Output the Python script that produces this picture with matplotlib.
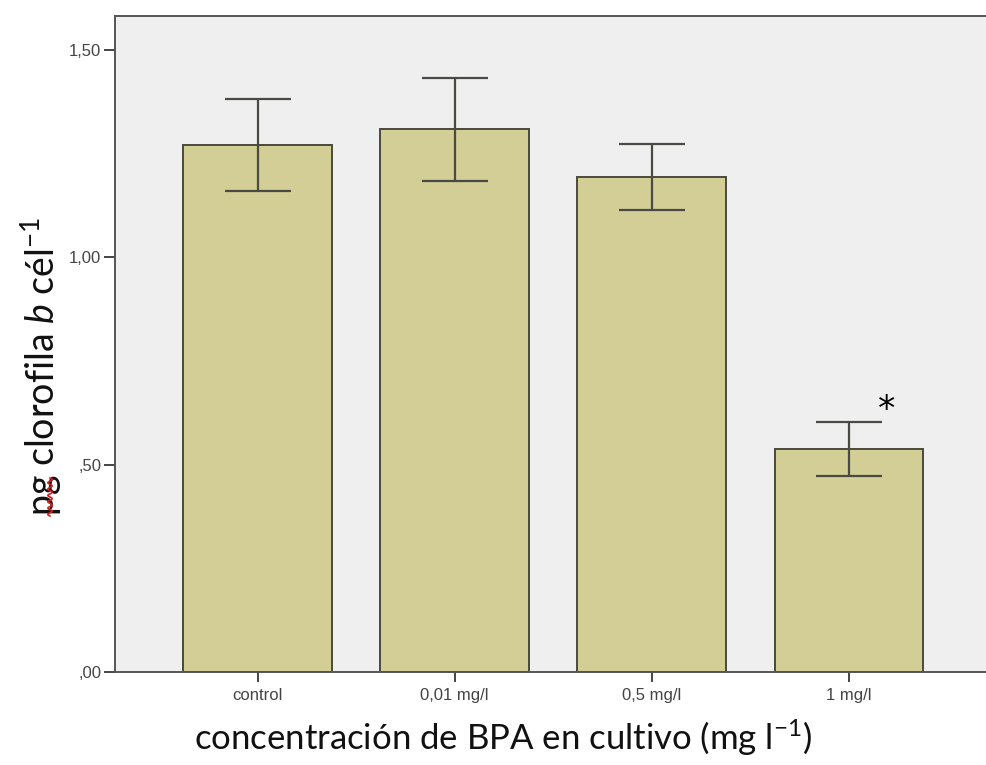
import numpy as np
import matplotlib
matplotlib.use("Agg")
import matplotlib.pyplot as plt
from matplotlib.lines import Line2D

# data
groups = ["control", "0,01 mg/l", "0,5 mg/l", "1 mg/l"]
means = [1.271, 1.309, 1.194, 0.537]
err_hi = [1.383, 1.433, 1.273, 0.603]
err_lo = [1.159, 1.184, 1.113, 0.473]
yticks = [0.0, 0.5, 1.0, 1.5]
ytick_labels = [",00", ",50", "1,00", "1,50"]
signif = [False, False, False, True]

plt.rcParams["mathtext.fontset"] = "custom"
plt.rcParams["mathtext.rm"] = "Lato"
plt.rcParams["mathtext.it"] = "Lato:italic"

fig = plt.figure(figsize=(9.87, 7.65), dpi=100)
ax = fig.add_axes([115/987, 1-672/765, 872/987, (672-16)/765])
ax.set_facecolor("#efefef")

x = np.arange(len(groups))
ax.bar(x, means, width=0.755, color="#d2ce95", edgecolor="#4a4a3c", linewidth=1.4, zorder=2)
yerr = [np.array(means) - np.array(err_lo), np.array(err_hi) - np.array(means)]
ax.errorbar(x, means, yerr=yerr, fmt="none", ecolor="#4a4a44", elinewidth=1.6,
            capsize=24, capthick=1.6, zorder=3)

for xi, hi, s in zip(x, err_hi, signif):
    if s:
        ax.text(xi + 0.19, hi - 0.012, "*", fontsize=25, ha="center", va="bottom",
                family="DejaVu Sans", color="black")

ax.set_xlim(-0.723, 3.70)
ax.set_ylim(0, 1.582)
ax.set_xticks(x)
ax.set_xticklabels(groups, fontsize=12, family="Liberation Sans", color="#444444")
ax.set_yticks(yticks)
ax.set_yticklabels(ytick_labels, fontsize=12, family="Liberation Sans", color="#444444")
ax.tick_params(axis="y", length=8, width=1.4, color="#444444", pad=2)
ax.tick_params(axis="x", length=7.5, width=1.4, color="#444444", pad=4)
for sp in ax.spines.values():
    sp.set_color("#555555")
    sp.set_linewidth(1.4)
ax.spines["right"].set_visible(False)

fig.text(503/987, 1-738/765, "concentración de BPA en cultivo (mg l$^{-1}$)",
         fontsize=25, family="Lato", ha="center", va="center", color="#111111")
fig.text(41/987, 1-366/765, "pg clorofila $\\mathit{b}$ cél$^{-1}$",
         fontsize=27, family="Lato", rotation=90, ha="center", va="center", color="#111111")

# spell-check squiggle under "pg"
t = np.linspace(0, 1, 70)
sx = (50 + 2.2*np.sin(t*2*np.pi*6)) / 987
sy = 1 - (478 + 38*t) / 765
fig.add_artist(Line2D(sx, sy, color="#cc2222", linewidth=1.2, zorder=10))

fig.savefig("out.png", dpi=100, facecolor="white")
